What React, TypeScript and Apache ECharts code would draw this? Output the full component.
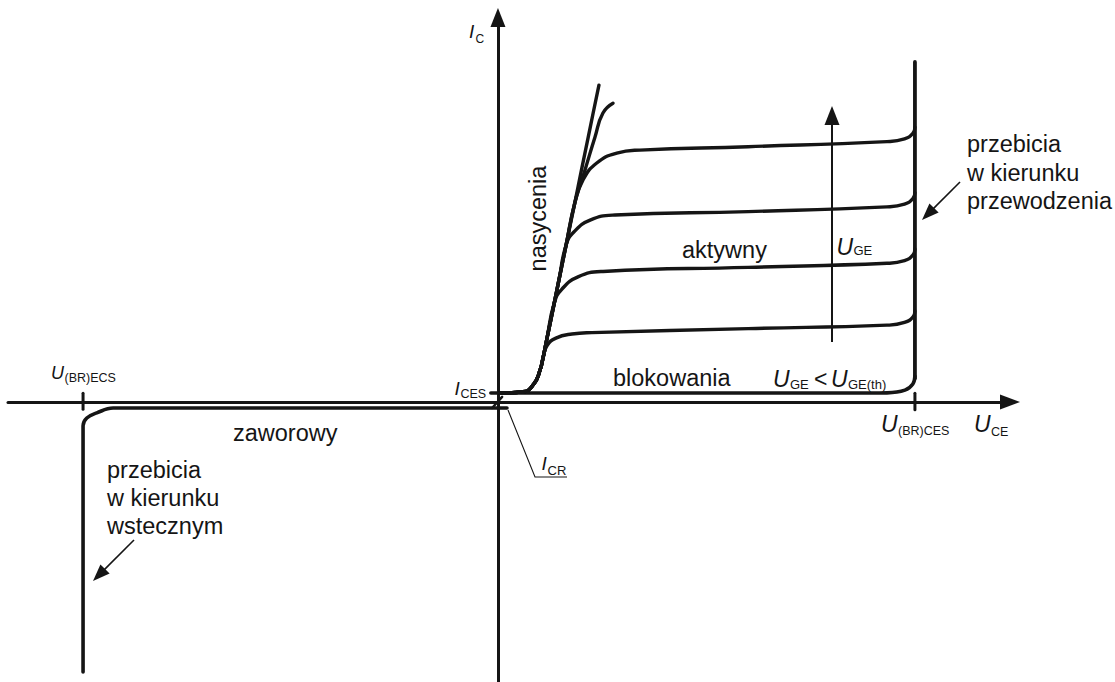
import React, { useEffect, useRef } from "react";
import * as echarts from "echarts";

// Value ranges of the two axes: U_CE (relative to U_(BR)CES = 100) and I_C (relative units)
const U_RANGE = [-117.5, 120.4];
const I_RANGE = [-82.35, 110.3];

// Breakdown voltages
const U_BR_CES = 100;
const U_BR_ECS = -99.5;

// Blocking state, U_GE < U_GE(th): leakage current I_CES until forward breakdown
const blocking = [
  [-1.7, 2.65], [89.2, 2.65], [93.3, 2.7], [97.6, 3.5], [99.5, 5.3], [100, 7.6],
];
// Forward breakdown (vertical branch at U_(BR)CES)
const forwardBreakdown = [[100, 7], [100, 100]];
// Reverse blocking with I_CR and reverse breakdown at U_(BR)ECS
const reverse = [
  [2.16, -1.76], [-92.3, -1.76], [-96.2, -3.2], [-98.6, -4.7], [-99.5, -7], [-99.5, -79.4],
];
const originLink = [[-1.4, -1.76], [1.0, 1.5]];

// Output characteristics for rising U_GE
const curve1 = [
  [0.5, 2.65], [6.0, 3.0], [8.6, 5.3], [10.1, 9.4], [10.8, 12.9], [11.75, 16.5],
  [13.9, 18.8], [17.75, 20.0], [22.5, 20.4], [60, 21.6], [93.3, 22.6], [97.5, 23.4],
  [99.5, 25.0], [100, 26.8],
];
const curve2 = [
  [0.5, 2.65], [6.0, 3.0], [8.6, 5.3], [10.1, 9.4], [10.8, 12.9], [11.68, 18.24],
  [13.5, 29.1], [15.35, 33.2], [19.2, 36.8], [25.2, 38.4], [60, 39.6], [93.3, 40.8],
  [97.5, 41.6], [99.5, 43.2], [100, 45.0],
];
const curve3 = [
  [0.5, 2.65], [6.0, 3.0], [8.6, 5.3], [10.1, 9.4], [10.8, 12.9], [11.68, 18.24],
  [13.5, 29.1], [14.63, 35.9], [16.35, 46.2], [18.2, 50.0], [22.1, 53.5], [28.1, 55.0],
  [60, 56.0], [93.3, 57.4], [97.5, 58.2], [99.5, 59.8], [100, 61.6],
];
const curve4 = [
  [0.5, 2.65], [6.0, 3.0], [8.6, 5.3], [10.1, 9.4], [10.8, 12.9], [11.68, 18.24],
  [13.5, 29.1], [14.63, 35.9], [16.35, 46.2], [18.42, 58.5], [20.4, 65.3], [23.7, 70.3],
  [28.5, 73.2], [34.05, 74.1], [60, 75.1], [93.3, 76.6], [97.5, 77.4], [99.5, 79.0],
  [100, 80.8],
];
const curve5 = [
  [0.5, 2.65], [6.0, 3.0], [8.6, 5.3], [10.1, 9.4], [10.8, 12.9], [11.68, 18.24],
  [13.5, 29.1], [14.63, 35.9], [16.35, 46.2], [18.42, 58.5], [20.02, 68.2], [21.65, 77.9],
  [22.83, 85.0], [24.22, 93.2],
];
const curve6 = [
  [0.5, 2.65], [6.0, 3.0], [8.6, 5.3], [10.1, 9.4], [10.8, 12.9], [11.68, 18.24],
  [13.5, 29.1], [14.63, 35.9], [16.35, 46.2], [18.42, 58.5], [20.86, 68.2], [23.26, 77.9],
  [25.18, 85.0], [27.58, 87.9],
];
const outputCurves = [curve1, curve2, curve3, curve4, curve5, curve6];

// Breakdown voltage tick marks on the U_CE axis
const tickCES = [[U_BR_CES, 2.6], [U_BR_CES, -2.3]];
const tickECS = [[U_BR_ECS, 2.6], [U_BR_ECS, -2.1]];

const INK = "#151515";
const FONT = "'Liberation Sans', Arial, Helvetica, sans-serif";

// text placed by its left edge and baseline
function label(x: number, baseline: number, text: string, size: number, italic = false) {
  return {
    type: "text",
    x,
    y: baseline - 0.3465 * size,
    style: {
      text,
      fontSize: size,
      fontFamily: FONT,
      fontStyle: italic ? "italic" : "normal",
      fill: INK,
      align: "left",
      verticalAlign: "middle",
    },
    silent: true,
  };
}

function arrowHead(tipX: number, tipY: number, angle: number, len: number, half: number) {
  // angle: direction the arrow points to (radians, screen coords)
  const c = Math.cos(angle);
  const s = Math.sin(angle);
  const bx = tipX - c * len;
  const by = tipY - s * len;
  return {
    type: "polygon",
    shape: {
      points: [
        [tipX, tipY],
        [bx - s * half, by + c * half],
        [bx + s * half, by - c * half],
      ],
    },
    style: { fill: INK },
    silent: true,
  };
}

function arrow(x1: number, y1: number, x2: number, y2: number, width: number, len: number, half: number) {
  const ang = Math.atan2(y2 - y1, x2 - x1);
  return [
    {
      type: "line",
      shape: { x1, y1, x2: x2 - Math.cos(ang) * (len - 2), y2: y2 - Math.sin(ang) * (len - 2) },
      style: { stroke: INK, lineWidth: width },
      silent: true,
    },
    arrowHead(x2, y2, ang, len, half),
  ];
}

export default function App() {
  const ref = useRef<HTMLDivElement>(null);

  useEffect(() => {
    if (!ref.current) return;
    const chart = echarts.init(ref.current, null, { renderer: "svg" });

    const curveSeries = (data: number[][], width = 3.6, smooth: number | boolean = 0.5) => ({
      type: "line",
      data,
      smooth,
      showSymbol: false,
      symbol: "none",
      clip: false,
      silent: true,
      lineStyle: { color: INK, width, cap: "round", join: "round" },
      z: 3,
    });

    const graphics: any[] = [
      // axis names
      label(469, 38, "I", 19, true),
      label(475.5, 43.5, "C", 12),
      label(974, 432, "U", 23, true),
      label(991, 436, "CE", 12.5),
      // breakdown voltages
      label(881, 432, "U", 23, true),
      label(898, 435.5, "(BR)CES", 12.5),
      label(51, 379, "U", 18, true),
      label(64.5, 382.5, "(BR)ECS", 12.5),
      // leakage currents
      label(454.5, 395, "I", 19, true),
      label(460.5, 398, "CES", 12.5),
      label(541.5, 470.5, "I", 19, true),
      label(547.5, 475, "CR", 13),
      {
        type: "polyline",
        shape: { points: [[508, 410], [535, 477], [567, 477]] },
        style: { stroke: INK, lineWidth: 1.1, fill: null },
        silent: true,
      },
      // operating regions
      label(613, 386.5, "blokowania", 23.5),
      label(773, 386.5, "U", 23, true),
      label(790, 389.5, "GE", 13),
      label(814, 386.5, "<", 23),
      label(831, 386.5, "U", 23, true),
      label(848, 389.5, "GE(th)", 13),
      label(682, 258, "aktywny", 23.5),
      label(233, 441, "zaworowy", 23.5),
      {
        type: "text",
        x: 537.5,
        y: 218.5,
        rotation: Math.PI / 2,
        style: {
          text: "nasycenia",
          fontSize: 23.5,
          fontFamily: FONT,
          fill: INK,
          align: "center",
          verticalAlign: "middle",
        },
        silent: true,
      },
      // rising gate voltage
      ...arrow(832, 342, 832, 106, 2, 19, 7.5),
      label(836.5, 255, "U", 23, true),
      label(853.5, 255.5, "GE", 13),
      // breakdown annotations
      label(967, 152, "przebicia", 23.5),
      label(967, 181, "w kierunku", 23.5),
      label(967, 209.5, "przewodzenia", 23.5),
      ...arrow(960, 182, 922, 220, 1.6, 17, 6.5),
      label(107, 478, "przebicia", 23.5),
      label(107, 506, "w kierunku", 23.5),
      label(107, 534, "wstecznym", 23.5),
      ...arrow(134, 540, 93, 581, 1.6, 17, 6.5),
    ];

    chart.setOption({
      animation: false,
      backgroundColor: "#ffffff",
      grid: { left: 8, right: 115, top: 27, bottom: 0, containLabel: false },
      xAxis: {
        type: "value",
        min: U_RANGE[0],
        max: U_RANGE[1],
        axisLine: {
          show: true,
          onZero: true,
          symbol: ["none", "triangle"],
          symbolSize: [15, 20],
          symbolOffset: [0, 10],
          lineStyle: { color: INK, width: 3 },
        },
        axisTick: { show: false },
        axisLabel: { show: false },
        splitLine: { show: false },
      },
      yAxis: {
        type: "value",
        min: I_RANGE[0],
        max: I_RANGE[1],
        axisLine: {
          show: true,
          onZero: true,
          symbol: ["none", "triangle"],
          symbolSize: [15, 19],
          symbolOffset: [0, 9.5],
          lineStyle: { color: INK, width: 3 },
        },
        axisTick: { show: false },
        axisLabel: { show: false },
        splitLine: { show: false },
      },
      series: [
        curveSeries(blocking, 3.6, 0.4),
        curveSeries(forwardBreakdown, 3.8, false),
        curveSeries(reverse, 3.6, 0.4),
        curveSeries(originLink, 2.5, false),
        curveSeries(tickCES, 3, false),
        curveSeries(tickECS, 3, false),
        ...outputCurves.map((c) => curveSeries(c, 3.4, 0.5)),
      ],
      graphic: graphics,
    });

    return () => chart.dispose();
  }, []);

  return (
    <div
      ref={ref}
      style={{ position: "absolute", left: 0, top: 0, width: 1115, height: 682, background: "#fff" }}
    />
  );
}
